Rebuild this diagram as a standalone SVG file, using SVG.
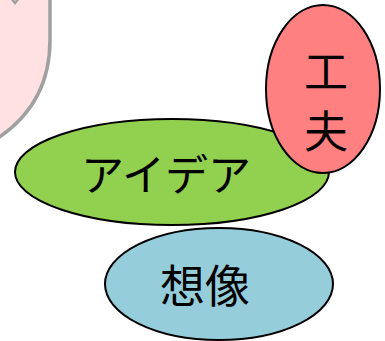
<svg xmlns="http://www.w3.org/2000/svg" width="385" height="341" viewBox="0 0 385 341">
<style>
.n{stroke:#000;stroke-width:2}
.t{font-family:"Noto Sans CJK JP","Noto Sans",sans-serif;fill:#000;text-anchor:middle}
</style>
<rect width="385" height="341" fill="#fff"/>
<g id="bubble">
<path d="M-10,-5 L50,-5 L50,40 Q50,105 -5,140 L-10,140 Z" fill="#FFE0E3" stroke="#A0A0A0" stroke-width="3.5"/>
<path d="M11,-2 L15,3 L19,-2" fill="none" stroke="#A0A0A0" stroke-width="2.5"/>
</g>
<g id="souzou">
<ellipse class="n" cx="219" cy="284" rx="114" ry="56" fill="#96CDDA"/>
<text class="t" x="205" y="303" font-size="45">想像</text>
</g>
<g id="idea">
<ellipse class="n" cx="172" cy="172" rx="157" ry="53" fill="#92D050"/>
<text class="t" x="166" y="191" font-size="43">アイデア</text>
</g>
<g id="kufuu">
<ellipse class="n" cx="323" cy="89" rx="57" ry="84" fill="#FF8080"/>
<text class="t" x="326" y="88" font-size="44">工</text>
<text class="t" x="326" y="148" font-size="44">夫</text>
</g>
<g id="connectors"/>
</svg>
